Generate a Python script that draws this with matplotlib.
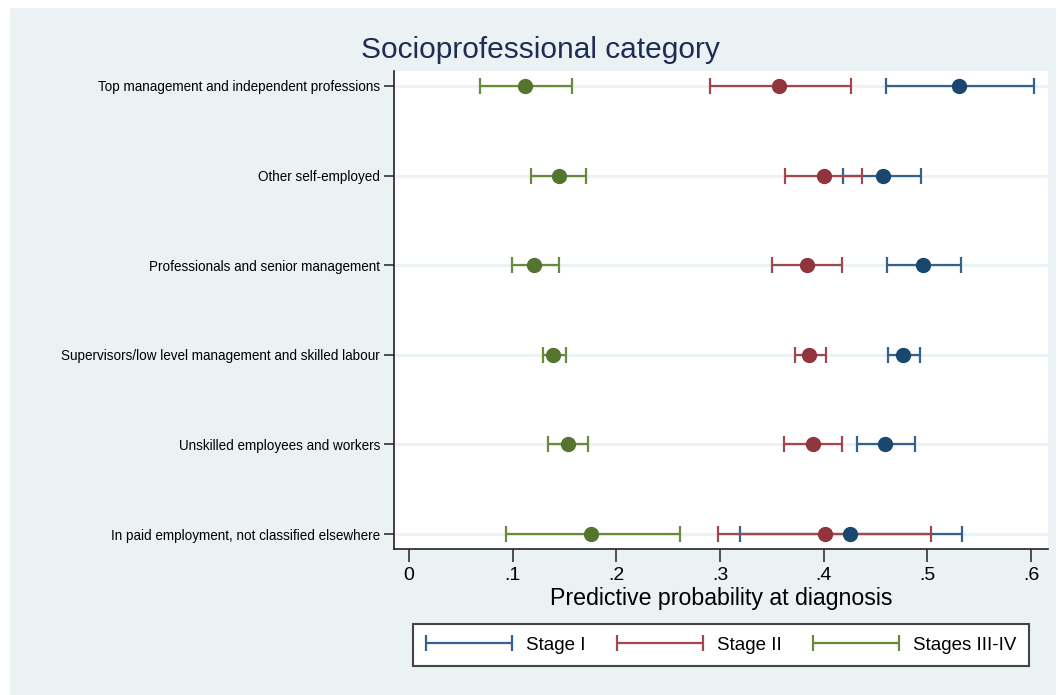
import matplotlib
matplotlib.use("Agg")
import matplotlib.pyplot as plt
from matplotlib.patches import Rectangle
from matplotlib.legend_handler import HandlerErrorbar

plt.rcParams['font.family'] = ['Liberation Sans', 'DejaVu Sans']

categories = [
    "Top management and independent professions",
    "Other self-employed",
    "Professionals and senior management",
    "Supervisors/low level management and skilled labour",
    "Unskilled employees and workers",
    "In paid employment, not classified elsewhere",
]
series = ["Stage I", "Stage II", "Stages III-IV"]

stage1_pt = [0.531, 0.457, 0.496, 0.477, 0.459, 0.425]
stage1_lo = [0.460, 0.419, 0.461, 0.462, 0.432, 0.319]
stage1_hi = [0.603, 0.494, 0.532, 0.493, 0.488, 0.533]

stage2_pt = [0.357, 0.400, 0.384, 0.386, 0.390, 0.401]
stage2_lo = [0.290, 0.363, 0.350, 0.372, 0.362, 0.298]
stage2_hi = [0.426, 0.437, 0.418, 0.402, 0.418, 0.504]

stage3_pt = [0.112, 0.145, 0.121, 0.139, 0.153, 0.176]
stage3_lo = [0.068, 0.118, 0.099, 0.129, 0.134, 0.094]
stage3_hi = [0.157, 0.171, 0.145, 0.151, 0.173, 0.261]

xticks = [0, 0.1, 0.2, 0.3, 0.4, 0.5, 0.6]
xticklabels = ["0", ".1", ".2", ".3", ".4", ".5", ".6"]

marker_colors = ["#1a476f", "#90353b", "#55752f"]
line_colors = ["#33628c", "#a3474f", "#678a3c"]

W, H = 1058, 695
fig = plt.figure(figsize=(W / 100, H / 100), dpi=100, facecolor="white")
bg = Rectangle((10 / W, 0), (1056 - 10) / W, 1 - 8 / H,
               transform=fig.transFigure, facecolor="#EAF2F3",
               edgecolor="none", zorder=-10)
fig.patches.append(bg)

ax = fig.add_axes([394 / W, 1 - 549 / H, (1048 - 394) / W, (549 - 71) / H])
ax.set_zorder(1)
ax.set_facecolor("white")

ypos = list(range(1, len(categories) + 1))
for y in ypos:
    ax.axhline(y, color="#EAF2F3", lw=2, zorder=1)

data = [(stage1_pt, stage1_lo, stage1_hi),
        (stage2_pt, stage2_lo, stage2_hi),
        (stage3_pt, stage3_lo, stage3_hi)]
handles = []
for (pt, lo, hi), mc, lc, name in zip(data, marker_colors, line_colors, series):
    xerr = [[p - l for p, l in zip(pt, lo)], [h - p for p, h in zip(pt, hi)]]
    eb = ax.errorbar(pt, ypos, xerr=xerr, fmt="none", ecolor=lc, elinewidth=1.6,
                     capsize=5.5, capthick=1.6, label=name, zorder=3)
    handles.append(eb)
    ax.plot(pt, ypos, "o", color=mc, markersize=10, zorder=4)

ax.set_xlim(-0.0145, 0.6164)
ax.set_ylim(6.167, 0.833)
ax.set_xticks(xticks)
ax.set_xticklabels(xticklabels, fontsize=14)
ax.set_yticks(ypos)
ax.set_yticklabels(categories, fontsize=9.75)
ax.tick_params(axis="x", length=9, width=1.2, color="#333333", pad=4)
ax.tick_params(axis="y", length=7, width=1.2, color="#333333", pad=3)
for s in ["top", "right"]:
    ax.spines[s].set_visible(False)
for s in ["left", "bottom"]:
    ax.spines[s].set_color("#222222")
    ax.spines[s].set_linewidth(1.2)

ax.set_xlabel("Predictive probability at diagnosis", fontsize=16.7, labelpad=2)
fig.text(540 / W, 1 - 50 / H, "Socioprofessional category", fontsize=21.5,
         color="#1f2d55", ha="center", va="center")

leg = fig.legend(handles, series, loc="center", ncol=3,
                 bbox_to_anchor=(721 / W, 1 - 645 / H), fontsize=13.5,
                 handlelength=4.6, handletextpad=0.75, columnspacing=1.65,
                 borderpad=0.66, frameon=True, fancybox=False, framealpha=1,
                 handler_map={type(handles[0]): HandlerErrorbar(xerr_size=2.3)})
leg.get_frame().set_edgecolor("#444444")
leg.get_frame().set_linewidth(1.5)
leg.get_frame().set_facecolor("white")

fig.savefig("out.png", dpi=100, facecolor="white")
